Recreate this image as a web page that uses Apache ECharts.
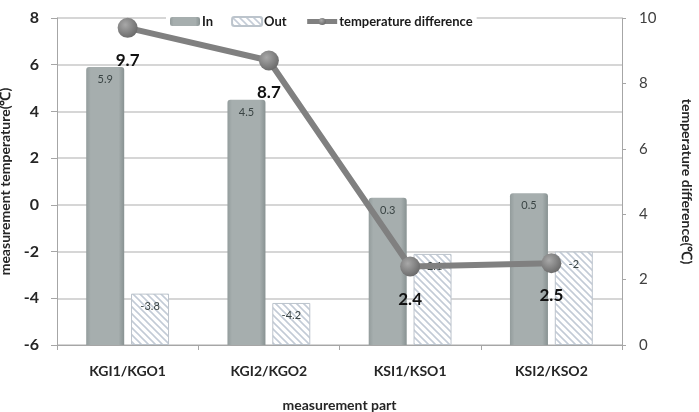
<!DOCTYPE html>
<html>
<head>
<meta charset="utf-8">
<script src="https://cdn.jsdelivr.net/npm/echarts@6/dist/echarts.min.js"></script>
<style>
  html, body { margin: 0; padding: 0; background: #fff; }
  #chart { width: 699px; height: 412px; }
</style>
</head>
<body>
<div id="chart"></div>
<script>
// 数据
const categories = ['KGI1/KGO1', 'KGI2/KGO2', 'KSI1/KSO1', 'KSI2/KSO2'];
const inValues = [5.9, 4.5, 0.3, 0.5];
const outValues = [-3.8, -4.2, -2.1, -2];
const diffValues = [9.7, 8.7, 2.4, 2.5];

// 坐标轴刻度
const tempMin = -6, tempMax = 8, tempStep = 2;
const diffMin = 0, diffMax = 10, diffStep = 2;

const FONT = 'Lato, "Liberation Sans", sans-serif';

// 斜线填充（Out 柱）
function hatchPattern() {
  const s = 7;
  const c = document.createElement('canvas');
  c.width = s; c.height = s;
  const ctx = c.getContext('2d');
  ctx.fillStyle = '#ffffff';
  ctx.fillRect(0, 0, s, s);
  ctx.strokeStyle = '#c3cbd6';
  ctx.lineWidth = 1.6;
  ctx.beginPath();
  ctx.moveTo(0, 0); ctx.lineTo(s, s);
  ctx.moveTo(-2, s - 2); ctx.lineTo(2, s + 2);
  ctx.moveTo(s - 2, -2); ctx.lineTo(s + 2, 2);
  ctx.stroke();
  return c;
}

const dotColor = new echarts.graphic.RadialGradient(0.38, 0.35, 0.7, [
  { offset: 0, color: '#a8a8a8' },
  { offset: 1, color: '#686868' }
]);

const chart = echarts.init(document.getElementById('chart'));

const option = {
  animation: false,
  textStyle: { fontFamily: FONT },
  legend: {
    top: 13,
    left: 166,
    itemWidth: 30,
    itemHeight: 9,
    itemGap: 18,
    backgroundColor: '#fff',
    padding: [2, 4],
    textStyle: { fontFamily: FONT, fontSize: 13, fontWeight: 'bold', color: '#1a1a1a', padding: [0, 0, 0, -3] },
    data: [
      'In',
      'Out',
      {
        name: 'temperature difference',
        itemStyle: { color: dotColor },
        lineStyle: { width: 5, color: '#808080' }
      }
    ]
  },
  grid: { left: 57, right: 77, top: 18, bottom: 67, outerBoundsMode: 'none' },
  xAxis: {
    type: 'category',
    data: categories,
    axisLine: { lineStyle: { color: '#a6a6a6', width: 1 } },
    axisTick: { show: true, length: 5, lineStyle: { color: '#a6a6a6' } },
    axisLabel: { fontFamily: FONT, fontSize: 14, fontWeight: 'bold', color: '#262626', margin: 19 },
    name: 'measurement part',
    nameLocation: 'middle',
    nameGap: 53,
    nameTextStyle: { fontFamily: FONT, fontSize: 14, fontWeight: 'bold', color: '#262626' }
  },
  yAxis: [
    {
      type: 'value',
      min: 0,
      max: tempMax - tempMin,
      interval: tempStep,
      axisLine: { show: true, lineStyle: { color: '#a6a6a6' } },
      axisTick: { show: true, length: 6, lineStyle: { color: '#a6a6a6' } },
      axisLabel: {
        fontFamily: FONT, fontSize: 16, fontWeight: 'bold', color: '#262626', margin: 18,
        formatter: v => String(v + tempMin)
      },
      splitLine: { lineStyle: { color: '#c8c8c8', width: 1.5 } },
      name: 'measurement temperature(℃)',
      nameLocation: 'middle',
      nameGap: 39,
      nameRotate: 90,
      nameTextStyle: { fontFamily: FONT, fontSize: 14, fontWeight: 'bold', color: '#262626' }
    },
    {
      type: 'value',
      position: 'right',
      min: diffMin,
      max: diffMax,
      interval: diffStep,
      axisLine: { show: true, lineStyle: { color: '#a6a6a6' } },
      axisTick: { show: true, length: 4, lineStyle: { color: '#a6a6a6' } },
      axisLabel: { fontFamily: FONT, fontSize: 15, color: '#404040', margin: 17 },
      splitLine: { show: false },
      name: 'temperature difference(℃)',
      nameLocation: 'middle',
      nameGap: 58,
      nameRotate: -90,
      nameTextStyle: { fontFamily: FONT, fontSize: 14, fontWeight: 'bold', color: '#262626' }
    }
  ],
  series: [
    {
      name: 'In',
      type: 'bar',
      yAxisIndex: 0,
      barWidth: 38,
      barGap: '18%',
      data: inValues.map(v => v - tempMin),
      itemStyle: {
        borderRadius: [3, 3, 0, 0],
        color: new echarts.graphic.LinearGradient(0, 0, 1, 0, [
          { offset: 0, color: '#939c9c' },
          { offset: 0.12, color: '#a6aeae' },
          { offset: 0.85, color: '#a6aeae' },
          { offset: 1, color: '#889292' }
        ])
      },
      label: {
        show: true,
        position: 'insideTop',
        distance: 7,
        fontFamily: FONT,
        fontSize: 11,
        color: '#3a4444',
        formatter: p => String(inValues[p.dataIndex])
      }
    },
    {
      name: 'Out',
      type: 'bar',
      yAxisIndex: 0,
      barWidth: 38,
      data: outValues.map(v => v - tempMin),
      itemStyle: {
        color: { image: hatchPattern(), repeat: 'repeat' },
        borderColor: '#bcc4cc',
        borderWidth: 1
      },
      label: {
        show: true,
        position: 'insideTop',
        distance: 7,
        fontFamily: FONT,
        fontSize: 11,
        color: '#3a4444',
        formatter: p => String(outValues[p.dataIndex])
      }
    },
    {
      name: 'temperature difference',
      type: 'line',
      yAxisIndex: 1,
      data: diffValues,
      z: 5,
      symbol: 'circle',
      symbolSize: 20,
      lineStyle: { color: '#808080', width: 6 },
      itemStyle: { color: dotColor },
      label: {
        show: true,
        position: 'bottom',
        distance: 14,
        fontFamily: FONT,
        fontSize: 17,
        fontWeight: 'bold',
        color: '#111'
      }
    }
  ]
};

chart.setOption(option);
</script>
</body>
</html>
